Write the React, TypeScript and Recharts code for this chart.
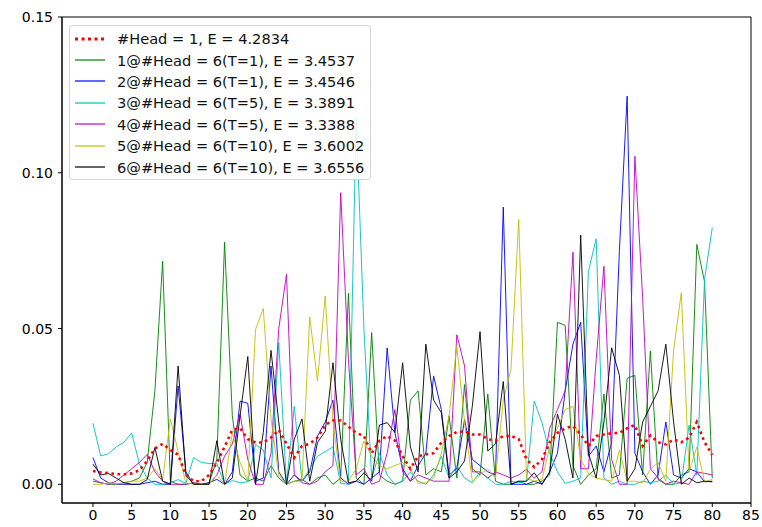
import React from 'react';
import {
  LineChart,
  Line,
  XAxis,
  YAxis,
  Legend,
  ReferenceArea,
} from 'recharts';

// loss per position for each run (81 points, x = 0..80)
const head1 = [
  0.0043, 0.0038, 0.0036, 0.0033, 0.0032, 0.0035, 0.0045, 0.0075, 0.0115, 0.013,
  0.011, 0.0095, 0.003, 0.001, 0.001, 0.003, 0.007, 0.012, 0.0175, 0.018,
  0.0145, 0.0134, 0.0134, 0.015, 0.0175, 0.013, 0.0085, 0.0123, 0.013, 0.015,
  0.019, 0.0205, 0.0205, 0.0185, 0.0165, 0.0155, 0.01, 0.014, 0.0155, 0.014,
  0.009, 0.005, 0.009, 0.0096, 0.01, 0.0134, 0.0155, 0.0168, 0.017, 0.016,
  0.016, 0.0145, 0.014, 0.0155, 0.0155, 0.0145, 0.008, 0.0055, 0.008, 0.0135,
  0.0165, 0.018, 0.0187, 0.016, 0.0123, 0.0155, 0.016, 0.0164, 0.0165, 0.018,
  0.019, 0.0123, 0.0157, 0.0135, 0.0128, 0.0144, 0.0135, 0.015, 0.02, 0.0135,
  0.0095,
];
const run1 = [
  0.001, 0.0005, 0, 0, 0.0005, 0.001, 0.002, 0.007, 0.03, 0.0716,
  0.001, 0, 0, 0.0005, 0, 0.0005, 0.008, 0.0777, 0.022, 0.003,
  0.001, 0.002, 0.001, 0.006, 0.002, 0, 0.001, 0.0015, 0, 0.002,
  0.003, 0, 0.002, 0.0613, 0.002, 0, 0.0487, 0.003, 0.001, 0,
  0.001, 0.027, 0.03, 0.003, 0.005, 0.004, 0.022, 0.002, 0.032, 0.005,
  0.003, 0.029, 0.001, 0, 0, 0.001, 0, 0, 0.001, 0.003,
  0.052, 0.051, 0.006, 0, 0.003, 0.005, 0.029, 0.002, 0.003, 0.034,
  0.035, 0.003, 0.0428, 0.0015, 0, 0, 0.003, 0.004, 0.077, 0.065,
  0.002,
];
const run2 = [
  0.0086, 0.002, 0.0005, 0, 0, 0, 0, 0.0005, 0.001, 0,
  0, 0.0316, 0.004, 0, 0, 0.0005, 0.0016, 0, 0.004, 0.0267,
  0.026, 0.001, 0.002, 0.038, 0.004, 0, 0.003, 0.001, 0.004, 0.0155,
  0.02, 0.027, 0.002, 0, 0.001, 0, 0.002, 0.004, 0.0438, 0.0166,
  0.005, 0.001, 0.006, 0.01, 0.0348, 0.024, 0.003, 0.005, 0.0208, 0.008,
  0.006, 0.004, 0.003, 0.089, 0, 0, 0, 0.001, 0, 0.004,
  0.01, 0.03, 0.045, 0.052, 0.009, 0.0123, 0.004, 0.0134, 0.075, 0.1246,
  0.01, 0.004, 0, 0.003, 0.02, 0.003, 0.002, 0.005, 0.004, 0.0008,
  0.001,
];
const run3 = [
  0.0196, 0.0091, 0.0098, 0.012, 0.0135, 0.0165, 0.0065, 0.002, 0, 0,
  0.0005, 0.0015, 0.0003, 0.0086, 0.007, 0.0067, 0.0067, 0, 0.0012, 0.0005,
  0.0008, 0.0128, 0.011, 0.002, 0.0455, 0, 0.025, 0.001, 0.005, 0.009,
  0.0105, 0.012, 0.0003, 0, 0.118, 0.05, 0.002, 0.01, 0.003, 0,
  0.001, 0.004, 0.001, 0, 0.003, 0.009, 0.002, 0.006, 0.002, 0.0005,
  0.004, 0.002, 0, 0, 0.001, 0.0005, 0.001, 0.0267, 0.0198, 0.01,
  0.004, 0.0003, 0.001, 0.002, 0.0684, 0.0788, 0.002, 0, 0.001, 0,
  0, 0.001, 0.0005, 0.001, 0.003, 0, 0.0005, 0.019, 0.003, 0.0658,
  0.0824,
];
const run4 = [
  0.0017, 0.0005, 0, 0.001, 0.003, 0.005, 0.007, 0.0096, 0.004, 0.001,
  0, 0, 0, 0.0005, 0, 0, 0.003, 0.009, 0.013, 0.0225,
  0.008, 0, 0, 0.01, 0.05, 0.0674, 0.003, 0.0005, 0, 0.001,
  0.004, 0.006, 0.0936, 0.04, 0.003, 0.005, 0, 0.001, 0.01, 0.024,
  0.004, 0.001, 0.003, 0.002, 0.001, 0.001, 0.001, 0.048, 0.038, 0.004,
  0.004, 0.002, 0.004, 0.003, 0.002, 0.003, 0.0048, 0.002, 0.004, 0.018,
  0.024, 0.03, 0.0745, 0.005, 0.005, 0.04, 0.07, 0.008, 0, 0,
  0.1053, 0.06, 0.005, 0.002, 0, 0.001, 0.0005, 0, 0.004, 0.0035,
  0.003,
];
const run5 = [
  0, 0, 0.0005, 0, 0.0005, 0.001, 0.001, 0.002, 0.005, 0.0015,
  0.021, 0.0105, 0.0005, 0, 0, 0, 0.003, 0, 0.0166, 0.007,
  0.001, 0.0497, 0.0564, 0.021, 0.003, 0, 0.001, 0.001, 0.0538, 0.0332,
  0.0604, 0.02, 0.001, 0.001, 0.005, 0.0139, 0.009, 0.006, 0.005, 0.006,
  0.007, 0.005, 0.0003, 0.0005, 0.002, 0.01, 0.022, 0.0445, 0.02, 0.001,
  0.003, 0.005, 0.002, 0.027, 0.037, 0.085, 0.002, 0.001, 0.0015, 0.012,
  0.018, 0.024, 0.025, 0.008, 0.0035, 0.002, 0.0015, 0.001, 0.011, 0.001,
  0.001, 0.0005, 0.0048, 0.007, 0.001, 0.043, 0.0615, 0.004, 0.012, 0.0008,
  0.0016,
];
const run6 = [
  0.0065, 0.003, 0.0035, 0.002, 0.0005, 0, 0, 0.0015, 0.0118, 0.001,
  0, 0.038, 0.003, 0, 0, 0, 0.014, 0, 0.002, 0.022,
  0.041, 0, 0.0166, 0.043, 0.02, 0, 0.0144, 0.021, 0.001, 0.0134,
  0.017, 0.039, 0.0144, 0.0005, 0.001, 0.0037, 0.001, 0.019, 0.0198, 0.0166,
  0.039, 0.012, 0.004, 0.045, 0.027, 0.023, 0.002, 0.004, 0.0075, 0.025,
  0.049, 0.0107, 0.013, 0.033, 0, 0.001, 0.001, 0.0037, 0, 0.004,
  0.0225, 0.0144, 0.002, 0.08, 0.01, 0.002, 0.02, 0.0438, 0.035, 0.001,
  0.005, 0.02, 0.025, 0.03, 0.045, 0.02, 0, 0.002, 0.0005, 0.001,
  0.0008,
];

const xTicks = [0, 5, 10, 15, 20, 25, 30, 35, 40, 45, 50, 55, 60, 65, 70, 75, 80, 85];
const yTicks = [0, 0.05, 0.1, 0.15];

const series = [
  { key: 'h1', name: '#Head = 1, E = 4.2834', color: '#ff0000', values: head1, dotted: true },
  { key: 'r1', name: '1@#Head = 6(T=1), E = 3.4537', color: '#008000', values: run1 },
  { key: 'r2', name: '2@#Head = 6(T=1), E = 3.4546', color: '#0000ff', values: run2 },
  { key: 'r3', name: '3@#Head = 6(T=5), E = 3.3891', color: '#00bfbf', values: run3 },
  { key: 'r4', name: '4@#Head = 6(T=5), E = 3.3388', color: '#bf00bf', values: run4 },
  { key: 'r5', name: '5@#Head = 6(T=10), E = 3.6002', color: '#bfbf00', values: run5 },
  { key: 'r6', name: '6@#Head = 6(T=10), E = 3.6556', color: '#000000', values: run6 },
];

const data = head1.map((_, i) => {
  const row: Record<string, number> = { x: i };
  series.forEach(s => { row[s.key] = s.values[i]; });
  return row;
});

const font = '"DejaVu Sans", sans-serif';

function LegendBox() {
  return (
    <div
      style={{
        position: 'absolute',
        left: 69,
        top: 25,
        width: 302,
        height: 155,
        boxSizing: 'border-box',
        border: '1px solid #d4d4d4',
        borderRadius: 3,
        background: 'rgba(255,255,255,0.85)',
        padding: '2px 0 0 0',
        fontFamily: font,
        fontSize: 14.6,
        color: '#111',
      }}
    >
      {series.map(s => (
        <div key={s.key} style={{ display: 'flex', alignItems: 'center', height: 21.4 }}>
          <svg width={42} height={10} style={{ marginLeft: 5, flexShrink: 0 }}>
            <line
              x1={0}
              x2={30}
              y1={5}
              y2={5}
              stroke={s.color}
              strokeWidth={s.dotted ? 3 : 1.2}
              strokeDasharray={s.dotted ? '3 3.5' : undefined}
            />
          </svg>
          <span style={{ whiteSpace: 'nowrap' }}>{s.name}</span>
        </div>
      ))}
    </div>
  );
}

export default function App() {
  return (
    <div style={{ position: 'absolute', left: 0, top: 0, width: 762, height: 527, background: '#fff' }}>
      <LineChart
        width={762}
        height={527}
        data={data}
        margin={{ top: 17, right: 11, bottom: 0, left: 0 }}
      >
        <XAxis
          dataKey="x"
          type="number"
          domain={[-4, 85]}
          ticks={xTicks}
          allowDataOverflow
          height={24}
          tickSize={4}
          tickMargin={3}
          stroke="#000"
          tick={{ fill: '#000', fontSize: 14, fontFamily: font }}
        />
        <YAxis
          type="number"
          domain={[-0.006, 0.15]}
          ticks={yTicks}
          allowDataOverflow
          width={62}
          tickSize={4}
          tickMargin={5}
          stroke="#000"
          tickFormatter={(v: number) => v.toFixed(2)}
          tick={{ fill: '#000', fontSize: 14, fontFamily: font }}
        />
        <ReferenceArea
          x1={-4}
          x2={85}
          y1={-0.006}
          y2={0.15}
          fill="none"
          stroke="#000"
          strokeWidth={1}
          ifOverflow="visible"
        />
        {series.slice(1).map(s => (
          <Line
            key={s.key}
            dataKey={s.key}
            name={s.name}
            stroke={s.color}
            strokeWidth={0.9}
            dot={false}
            isAnimationActive={false}
            type="linear"
          />
        ))}
        <Line
          dataKey="h1"
          name={series[0].name}
          stroke="#ff0000"
          strokeWidth={2.6}
          strokeDasharray="2.6 3.6"
          dot={false}
          isAnimationActive={false}
          type="linear"
        />
        <Legend content={() => null} />
      </LineChart>
      <LegendBox />
    </div>
  );
}
